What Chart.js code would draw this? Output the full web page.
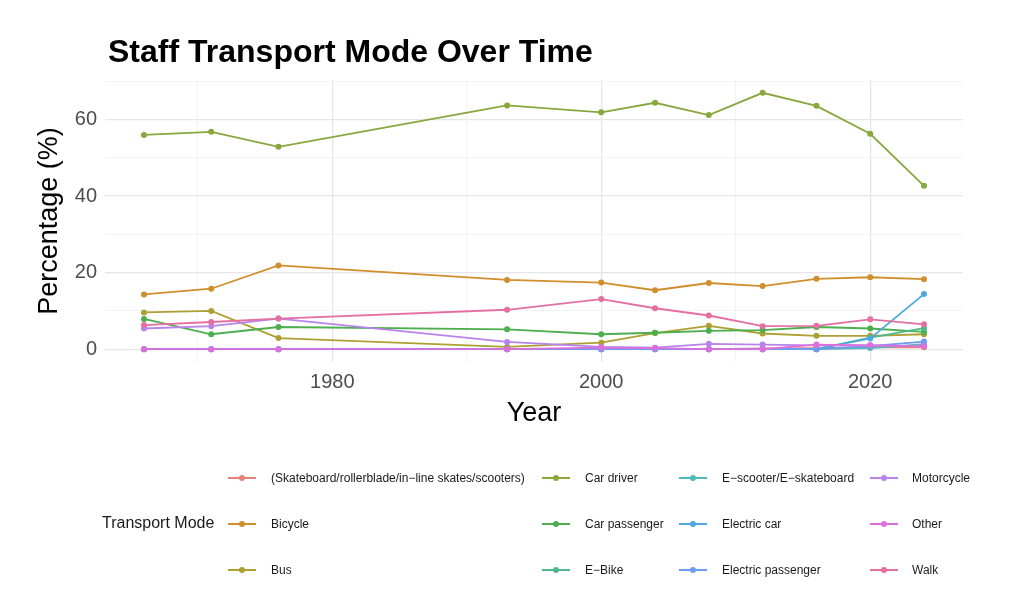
<!DOCTYPE html>
<html>
<head>
<meta charset="utf-8">
<script src="https://cdn.jsdelivr.net/npm/chart.js@4.4.1/dist/chart.umd.min.js"></script>
<style>
  html, body { margin: 0; padding: 0; background: #fff; }
  #wrap { position: relative; width: 1024px; height: 600px; font-family: "Liberation Sans", Arial, sans-serif; }
  #chart { position: absolute; left: 0; top: 0; }
  #title { position: absolute; left: 108px; top: 35px; font-size: 32px; line-height: 32px; font-weight: bold; color: #000; }
  #legendTitle { position: absolute; left: 102px; top: 514px; font-size: 16px; line-height: 18px; color: #1a1a1a; }
  .item { position: absolute; height: 16px; font-size: 12px; line-height: 16px; color: #1a1a1a; }
  .key { position: absolute; top: 7px; width: 28px; height: 2px; }
  .dot { position: absolute; top: 5px; width: 6px; height: 6px; border-radius: 50%; }
  .lbl { position: absolute; top: 0; white-space: nowrap; }
</style>
</head>
<body>
<div id="wrap">
  <canvas id="chart" width="1024" height="600"></canvas>
  <div id="title">Staff Transport Mode Over Time</div>
  <div id="legendTitle">Transport Mode</div>
  <div id="legend"></div>
</div>
<script>
const years = [1966, 1971, 1976, 1993, 2000, 2004, 2008, 2012, 2016, 2020, 2024];

const modes = [
  '(Skateboard/rollerblade/in\u2212line skates/scooters)', 'Bicycle', 'Bus', 'Car driver',
  'Car passenger', 'E\u2212Bike', 'E\u2212scooter/E\u2212skateboard', 'Electric car',
  'Electric passenger', 'Motorcycle', 'Other', 'Walk'
];

// ggplot hue palette, toned down a little to match the picture
const colors = ['#E5837A', '#D08E2C', '#ADA033', '#88A83E', '#4DAE4D', '#4FB88C',
  '#4DB9BA', '#4EA9E0', '#6E9CF0', '#B884EC', '#DD6FDC', '#E46FA2'];

const skateboard        = [null, null, null, null, null, null, 0, 0.2, 0.3, 0.5, 0.5];
const bicycle           = [14.3, 15.8, 21.9, 18.1, 17.4, 15.4, 17.3, 16.5, 18.4, 18.8, 18.3];
const bus               = [9.6, 10.0, 2.9, 0.6, 1.7, 4.2, 6.1, 4.1, 3.5, 3.5, 3.9];
const carDriver         = [56.0, 56.8, 52.9, 63.7, 61.9, 64.4, 61.2, 67.0, 63.6, 56.3, 42.7];
const carPassenger      = [7.9, 3.9, 5.8, 5.2, 3.9, 4.3, 4.8, 5.0, 5.8, 5.4, 4.5];
const eBike             = [null, null, null, null, null, null, null, 0, 0, 3.0, 5.5];
const eScooter          = [0, 0, 0, 0, 0, 0, 0, 0, 0, 0.3, 1.3];
const electricCar       = [0, 0, 0, 0, 0, 0, 0, 0, 0, 2.8, 14.4];
const electricPassenger = [0, 0, 0, 0, 0, 0, 0, 0, 0, 0.8, 2.0];
const motorcycle        = [5.4, 6.0, 8.0, 1.9, 0.6, 0.4, 1.4, 1.2, 1.0, 1.0, 0.8];
const other             = [0, 0, 0, 0, 0.4, 0.3, 0, 0, 1.2, 1.0, 0.8];
const walk              = [6.3, 7.1, 8.0, 10.3, 13.1, 10.7, 8.8, 6.0, 6.1, 7.8, 6.5];

const series = [skateboard, bicycle, bus, carDriver, carPassenger, eBike, eScooter,
  electricCar, electricPassenger, motorcycle, other, walk];

const xMajor = [1980, 2000, 2020];
const yMajor = [0, 20, 40, 60];

const datasets = modes.map((m, i) => ({
  label: m,
  data: years.map((y, j) => ({ x: y, y: series[i][j] })),
  borderColor: colors[i],
  backgroundColor: colors[i],
  borderWidth: 1.8,
  pointRadius: 3,
  pointBorderWidth: 0,
  spanGaps: false,
  order: modes.length - i
}));

const gridOpts = (major) => ({
  drawTicks: false,
  color: ctx => major.includes(ctx.tick.value) ? '#e6e6e6' : '#f2f2f2',
  lineWidth: ctx => major.includes(ctx.tick.value) ? 1.3 : 0.9
});

new Chart(document.getElementById('chart'), {
  type: 'line',
  data: { datasets: datasets },
  options: {
    responsive: false,
    animation: false,
    layout: { padding: { left: 0, right: 61, top: 80, bottom: 170 } },
    plugins: { legend: { display: false }, tooltip: { enabled: false } },
    scales: {
      x: {
        type: 'linear',
        min: 1963.1,
        max: 2026.9,
        afterBuildTicks: s => { s.ticks = [1970, 1980, 1990, 2000, 2010, 2020].map(v => ({ value: v })); },
        afterFit: s => { s.height = 68; },
        border: { display: false },
        grid: gridOpts(xMajor),
        ticks: {
          padding: 8,
          color: '#4d4d4d',
          font: { family: 'Liberation Sans', size: 20 },
          callback: v => xMajor.includes(v) ? String(v) : ''
        },
        title: {
          display: true,
          text: 'Year',
          color: '#000',
          font: { family: 'Liberation Sans', size: 27 },
          padding: { top: 4, bottom: 0 }
        }
      },
      y: {
        min: -3.35,
        max: 70.35,
        afterBuildTicks: s => { s.ticks = [0, 10, 20, 30, 40, 50, 60, 70].map(v => ({ value: v })); },
        afterFit: s => { s.width = 105; },
        border: { display: false },
        grid: gridOpts(yMajor),
        ticks: {
          padding: 8,
          color: '#4d4d4d',
          font: { family: 'Liberation Sans', size: 20 },
          callback: v => yMajor.includes(v) ? String(v) : ''
        },
        title: {
          display: true,
          text: 'Percentage (%)',
          color: '#000',
          font: { family: 'Liberation Sans', size: 27 },
          padding: { top: 33, bottom: 0 }
        }
      }
    }
  }
});

// legend laid out column-wise like the ggplot guide
const colKeyX = [228, 542, 679, 870];
const colLblX = [271, 585, 722, 912];
const rowY = [470, 516, 562];
const legend = document.getElementById('legend');
modes.forEach((m, i) => {
  const col = Math.floor(i / 3), row = i % 3;
  const item = document.createElement('div');
  item.className = 'item';
  item.style.left = '0px';
  item.style.top = rowY[row] + 'px';
  item.innerHTML =
    '<div class="key" style="left:' + colKeyX[col] + 'px;background:' + colors[i] + '"></div>' +
    '<div class="dot" style="left:' + (colKeyX[col] + 11) + 'px;background:' + colors[i] + '"></div>' +
    '<div class="lbl" style="left:' + colLblX[col] + 'px"></div>';
  item.querySelector('.lbl').textContent = m;
  legend.appendChild(item);
});
</script>
</body>
</html>
